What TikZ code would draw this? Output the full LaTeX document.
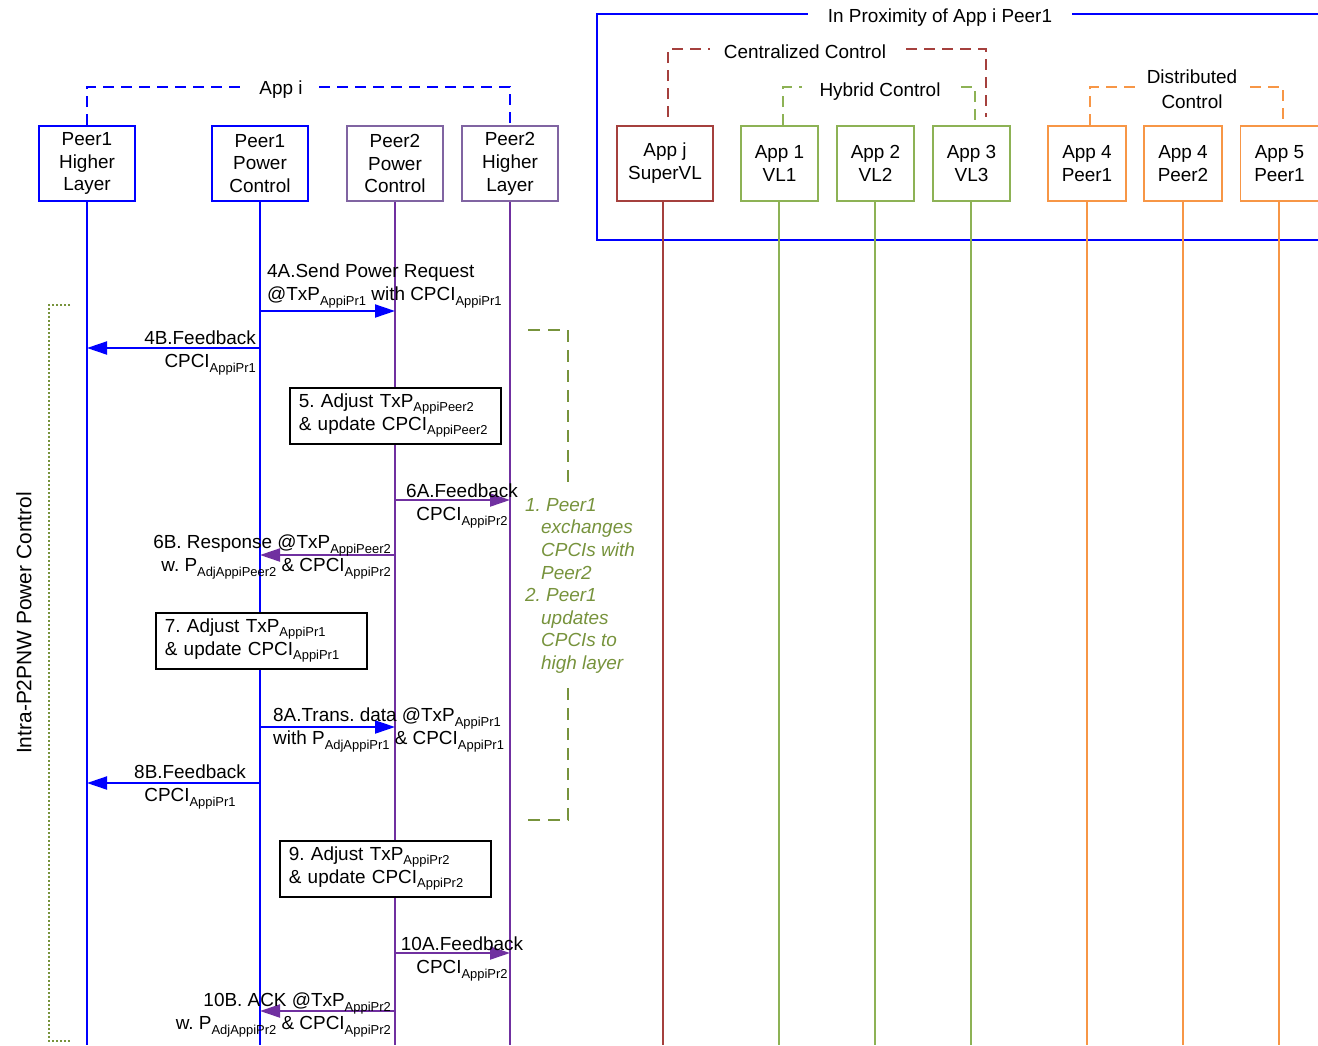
\documentclass[tikz,border=0pt]{standalone}
\usepackage{fontspec}
\setmainfont{Liberation Sans}
\usetikzlibrary{arrows.meta}
\definecolor{pblue}{HTML}{0000FF}
\definecolor{ppurple}{HTML}{7030A0}
\definecolor{plav}{HTML}{8064A2}
\definecolor{dred}{HTML}{A5403D}
\definecolor{lgreen}{HTML}{8DB255}
\definecolor{olivegr}{HTML}{77933C}
\definecolor{orng}{HTML}{F79646}
\newcommand\fs{\fontsize{19}{23}\selectfont}
\newcommand\sbx[1]{\raisebox{-0.22em}{\fontsize{13}{13}\selectfont #1}}
\frenchspacing
\begin{document}
\begin{tikzpicture}[x=1bp,y=-1bp,font=\fs,
 hdr/.style={draw,line width=1.8bp,minimum height=75bp,align=center,inner sep=0pt,fill=white},
 life/.style={line width=1.8bp},
 msg/.style={line width=2bp,-{Triangle[length=20bp,width=13bp]}},
 lbl/.style={inner sep=0pt},
 stepbox/.style={draw=black,line width=1.6bp,fill=white,anchor=north west,minimum width=211bp,minimum height=56bp,text width=193bp,inner xsep=9bp,inner ysep=0pt,align=left},
 grp/.style={fill=white,inner ysep=2bp},
 grpdash/.style={line width=2bp,dash pattern=on 11bp off 7bp},
]
\useasboundingbox (0,0) rectangle (1318,1045);
\coordinate (bot) at (0,1045);

% proximity frame
\coordinate (pxa) at (1330,14);
\coordinate (pxb) at (597,14);
\coordinate (pxc) at (597,240);
\coordinate (pxd) at (1330,240);
\draw[pblue,line width=1.5bp] (pxa) -- (pxb) -- (pxc) -- (pxd);
\node[grp,inner xsep=20bp,anchor=base] (pxlbl) at (940,22.7) {In Proximity of App i Peer1};

% header boxes
\node[hdr,draw=pblue,minimum width=96bp] (p1hl) at (87,163.5) {Peer1\\Higher\\Layer};
\node[hdr,draw=pblue,minimum width=96bp] (p1pc) at (260,163.5) {Peer1\\Power\\Control};
\node[hdr,draw=plav,minimum width=96bp] (p2pc) at (395,163.5) {Peer2\\Power\\Control};
\node[hdr,draw=plav,minimum width=96bp] (p2hl) at (510,163.5) {Peer2\\Higher\\Layer};
\node[hdr,draw=dred,minimum width=96bp] (appj) at (665,163.5) {App j\\SuperVL};
\node[hdr,draw=lgreen,minimum width=77bp] (app1) at (779.5,163.5) {App 1\\VL1};
\node[hdr,draw=lgreen,minimum width=77bp] (app2) at (875.5,163.5) {App 2\\VL2};
\node[hdr,draw=lgreen,minimum width=77bp] (app3) at (971.5,163.5) {App 3\\VL3};
\node[hdr,draw=orng,minimum width=78bp] (app4a) at (1087,163.5) {App 4\\Peer1};
\node[hdr,draw=orng,minimum width=78bp] (app4b) at (1183,163.5) {App 4\\Peer2};
\node[hdr,draw=orng,minimum width=78bp] (app5) at (1279.5,163.5) {App 5\\Peer1};

% lifelines
\draw[life,pblue] (p1hl.south) -- (p1hl.south |- bot);
\draw[life,pblue] (p1pc.south) -- (p1pc.south |- bot);
\draw[life,ppurple] (p2pc.south) -- (p2pc.south |- bot);
\draw[life,ppurple] (p2hl.south) -- (p2hl.south |- bot);
\draw[life,dred] ([xshift=-2bp]appj.south) -- ([xshift=-2bp]appj.south |- bot);
\draw[life,lgreen] ([xshift=-0.5bp]app1.south) -- ([xshift=-0.5bp]app1.south |- bot);
\draw[life,lgreen] ([xshift=-0.5bp]app2.south) -- ([xshift=-0.5bp]app2.south |- bot);
\draw[life,lgreen] ([xshift=-0.5bp]app3.south) -- ([xshift=-0.5bp]app3.south |- bot);
\draw[life,orng] (app4a.south) -- (app4a.south |- bot);
\draw[life,orng] (app4b.south) -- (app4b.south |- bot);
\draw[life,orng] ([xshift=-0.5bp]app5.south) -- ([xshift=-0.5bp]app5.south |- bot);

% group brackets
\draw[grpdash,draw=pblue] (p1hl.north) -- ++(0,-38) -| (p2hl.north);
\node[grp,inner xsep=12bp,anchor=base] (appilbl) at (281,94) {App i};
\draw[grpdash,draw=dred] ([xshift=3bp,yshift=8bp]appj.north) -- ++(0,-68) -| ([xshift=14.5bp,yshift=8bp]app3.north);
\node[grp,inner xsep=14bp,anchor=base] (cclbl) at (805,58.3) {Centralized Control};
\draw[grpdash,draw=lgreen] ([xshift=3.5bp]app1.north) -- ++(0,-38) -| ([xshift=3.5bp]app3.north);
\node[grp,inner xsep=18bp,anchor=base] (hclbl) at (880,96) {Hybrid Control};
\draw[grpdash,draw=orng] ([xshift=3bp]app4a.north) -- ++(0,-38) -| ([xshift=3.5bp]app5.north);
\node[grp,inner xsep=10bp,anchor=north,align=center,font=\fontsize{19}{24.5}\selectfont] (dclbl) at (1192,68) {Distributed\\Control};

% intra bracket
\coordinate (ina) at (70,305);
\coordinate (inb) at (49,305);
\coordinate (inc) at (49,1041);
\coordinate (ind) at (70,1041);
\draw[olivegr,line width=1.6bp,dash pattern=on 2bp off 2bp] (ina) -- (inb) -- (inc) -- (ind);
\node[lbl,rotate=90,font=\fontsize{21}{25}\selectfont] (intra) at (24,623) {Intra-P2PNW Power Control};

% note bracket
\coordinate (nta) at (528,330);
\coordinate (ntb) at (568,330);
\coordinate (ntc) at (568,486);
\coordinate (ntd) at (568,688);
\coordinate (nte) at (568,820);
\coordinate (ntf) at (528,820);
\draw[olivegr,line width=1.8bp,dash pattern=on 12bp off 8bp] (nta) -- (ntb) -- (ntc);
\draw[olivegr,line width=1.8bp,dash pattern=on 12bp off 8bp] (ntd) -- (nte) -- (ntf);
\node[lbl,anchor=north west,align=left,text=olivegr,font=\fontsize{19}{22.7}\selectfont\itshape] (note) at (525,498)
 {1. Peer1\\\hspace*{16bp}exchanges\\\hspace*{16bp}CPCIs with\\\hspace*{16bp}Peer2\\2. Peer1\\\hspace*{16bp}updates\\\hspace*{16bp}CPCIs to\\\hspace*{16bp}high layer};

% message 4A
\coordinate (m4as) at (260,311);
\coordinate (m4ae) at (395,311);
\draw[msg,pblue] (m4as) -- (m4ae);
\node[lbl,anchor=north west,align=left] (l4a) at (267,264) {4A.Send Power Request\\@TxP\sbx{AppiPr1} with CPCI\sbx{AppiPr1}};
% 4B
\coordinate (m4bs) at (260,348);
\coordinate (m4be) at (87,348);
\draw[msg,pblue] (m4bs) -- (m4be);
\node[lbl,anchor=north east,align=right] (l4b) at (256,331) {4B.Feedback\\CPCI\sbx{AppiPr1}};
% 5
\node[stepbox] (s5) at (289,387) {5. Adjust TxP\sbx{AppiPeer2}\\\& update CPCI\sbx{AppiPeer2}};
% 6A
\coordinate (m6as) at (395,500);
\coordinate (m6ae) at (510,500);
\draw[msg,ppurple] (m6as) -- (m6ae);
\node[lbl,anchor=north,align=center] (l6a) at (462,484) {6A.Feedback\\CPCI\sbx{AppiPr2}};
% 6B
\coordinate (m6bs) at (395,555);
\coordinate (m6be) at (260,555);
\draw[msg,ppurple] (m6bs) -- (m6be);
\node[lbl,anchor=north east,align=right] (l6b) at (391,535) {6B. Response @TxP\sbx{AppiPeer2}\\w. P\sbx{AdjAppiPeer2} \& CPCI\sbx{AppiPr2}};
% 7
\node[stepbox] (s7) at (155,612) {7. Adjust TxP\sbx{AppiPr1}\\\& update CPCI\sbx{AppiPr1}};
% 8A
\coordinate (m8as) at (260,727);
\coordinate (m8ae) at (395,727);
\draw[msg,pblue] (m8as) -- (m8ae);
\node[lbl,anchor=north west,align=left] (l8a) at (273,708) {8A.Trans. data @TxP\sbx{AppiPr1}\\with P\sbx{AdjAppiPr1} \& CPCI\sbx{AppiPr1}};
% 8B
\coordinate (m8bs) at (260,783);
\coordinate (m8be) at (87,783);
\draw[msg,pblue] (m8bs) -- (m8be);
\node[lbl,anchor=north,align=center] (l8b) at (190,765) {8B.Feedback\\CPCI\sbx{AppiPr1}};
% 9
\node[stepbox] (s9) at (279,840) {9. Adjust TxP\sbx{AppiPr2}\\\& update CPCI\sbx{AppiPr2}};
% 10A
\coordinate (m10as) at (395,953);
\coordinate (m10ae) at (510,953);
\draw[msg,ppurple] (m10as) -- (m10ae);
\node[lbl,anchor=north,align=center] (l10a) at (462,937) {10A.Feedback\\CPCI\sbx{AppiPr2}};
% 10B
\coordinate (m10bs) at (395,1011);
\coordinate (m10be) at (260,1011);
\draw[msg,ppurple] (m10bs) -- (m10be);
\node[lbl,anchor=north east,align=right] (l10b) at (391,993) {10B. ACK @TxP\sbx{AppiPr2}\\w. P\sbx{AdjAppiPr2} \& CPCI\sbx{AppiPr2}};
\end{tikzpicture}
\end{document}
